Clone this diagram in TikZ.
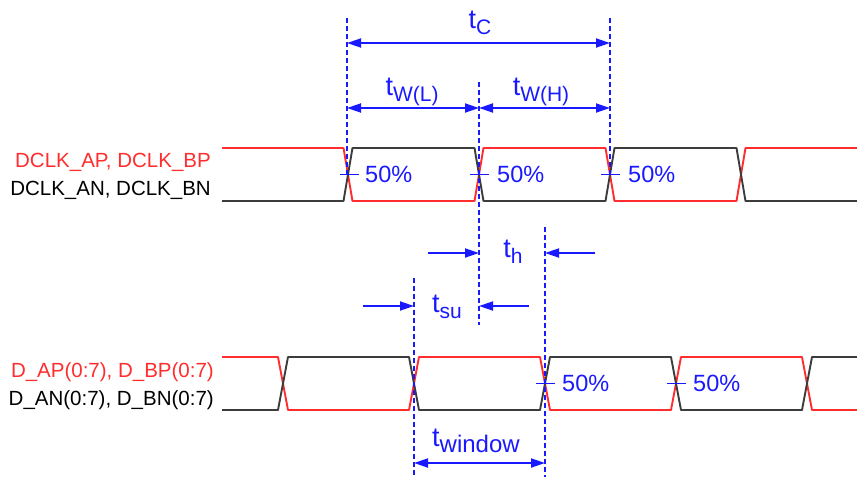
\documentclass[tikz,border=0pt]{standalone}
\usepackage{fontspec}
\setmainfont{Liberation Sans}
\usetikzlibrary{arrows.meta}
\definecolor{sigred}{RGB}{255,45,45}
\definecolor{sigdark}{RGB}{60,60,60}
\definecolor{dimblue}{RGB}{25,25,255}
\newcommand\tlab[2][21]{{\fontsize{27}{27}\selectfont t}\raisebox{-6pt}{\fontsize{#1}{#1}\selectfont #2}}
\begin{document}
\begin{tikzpicture}[x=1pt,y=-1pt,
  wave/.style={line width=1.9pt,line join=round},
  redwave/.style={wave,sigred},
  darkwave/.style={wave,sigdark},
  guide/.style={dimblue,line width=1.5pt,dash pattern=on 5pt off 3pt},
  dim/.style={dimblue,line width=1.8pt,-{Triangle[length=14pt,width=9pt]}},
  dimboth/.style={dimblue,line width=1.8pt,{Triangle[length=14pt,width=9pt]}-{Triangle[length=14pt,width=9pt]}},
  tick/.style={dimblue,line width=1.8pt},
  pct/.style={dimblue,anchor=base west,inner sep=0pt,font=\fontsize{23.5}{23.5}\selectfont},
  tlabel/.style={dimblue,anchor=base,inner sep=0pt},
  siglab/.style={anchor=base east,inner sep=0pt,font=\fontsize{20.5}{20.5}\selectfont}]
\useasboundingbox (0,0) rectangle (857,477);
% signal labels
\node[siglab,sigred] (lclkp) at (211,167) {DCLK\_AP, DCLK\_BP};
\node[siglab,black] (lclkn) at (211,195) {DCLK\_AN, DCLK\_BN};
\node[siglab,sigred] (ldatp) at (214,377) {D\_AP(0:7), D\_BP(0:7)};
\node[siglab,black] (ldatn) at (214,405) {D\_AN(0:7), D\_BN(0:7)};
% clock waveforms
\draw[redwave] (222,148) -- (343.5,148) -- (352.5,201) -- (474.5,201) -- (483.5,148) -- (605.5,148) -- (614.5,201) -- (736.5,201) -- (745.5,148) -- (857,148);
\draw[darkwave] (222,201) -- (343.5,201) -- (352.5,148) -- (474.5,148) -- (483.5,201) -- (605.5,201) -- (614.5,148) -- (736.5,148) -- (745.5,201) -- (857,201);
% data waveforms
\draw[redwave] (222,357) -- (278,357) -- (288,410) -- (409,410) -- (419,357) -- (540,357) -- (550,410) -- (671,410) -- (681,357) -- (802,357) -- (812,410) -- (857,410);
\draw[darkwave] (222,410) -- (278,410) -- (288,357) -- (409,357) -- (419,410) -- (540,410) -- (550,357) -- (671,357) -- (681,410) -- (802,410) -- (812,357) -- (857,357);
% guide coordinates
\coordinate (gAt) at (347,18);   \coordinate (gAb) at (347,175);
\coordinate (gBt) at (610,18);   \coordinate (gBb) at (610,175);
\coordinate (gCt) at (479,82);   \coordinate (gCb) at (479,325);
\coordinate (gDt) at (414,278);  \coordinate (gDb) at (414,477);
\coordinate (gEt) at (545,227);  \coordinate (gEb) at (545,477);
\draw[guide] (gAt) -- (gAb);
\draw[guide] (gBt) -- (gBb);
\draw[guide] (gCt) -- (gCb);
\draw[guide] (gDt) -- (gDb);
\draw[guide] (gEt) -- (gEb);
% dimension arrows
\coordinate (tcL) at (347,43);  \coordinate (tcR) at (610,43);
\draw[dimboth] (tcL) -- (tcR);
\coordinate (twL) at (347,108); \coordinate (twM) at (479,108); \coordinate (twR) at (610,108);
\draw[dimboth] (twL) -- (twM);
\draw[dimboth] (twM) -- (twR);
\coordinate (thA) at (428,253); \coordinate (thB) at (479,253);
\coordinate (thC) at (595,253); \coordinate (thD) at (545,253);
\draw[dim] (thA) -- (thB);
\draw[dim] (thC) -- (thD);
\coordinate (tsA) at (363,306); \coordinate (tsB) at (414,306);
\coordinate (tsC) at (529,306); \coordinate (tsD) at (479,306);
\draw[dim] (tsA) -- (tsB);
\draw[dim] (tsC) -- (tsD);
\coordinate (tnL) at (414,463); \coordinate (tnR) at (545,463);
\draw[dimboth] (tnL) -- (tnR);
% timing labels
\node[tlabel] (lbc) at (480,28) {\tlab{C}};
\node[tlabel] (lbwl) at (412,95) {\tlab{W(L)}};
\node[tlabel] (lbwh) at (541,95) {\tlab{W(H)}};
\node[tlabel] (lbh) at (513,257) {\tlab{h}};
\node[tlabel] (lbsu) at (447,312) {\tlab{su}};
\node[tlabel] (lbwin) at (476,446) {\tlab[24]{window}};
% 50% ticks and labels
\draw[tick] (340,174.5) -- (359,174.5);
\draw[tick] (470,174.5) -- (489,174.5);
\draw[tick] (601,174.5) -- (620,174.5);
\draw[tick] (536,383.5) -- (555,383.5);
\draw[tick] (667,383.5) -- (686,383.5);
\node[pct] (p1) at (365,182) {50\%};
\node[pct] (p2) at (497,182) {50\%};
\node[pct] (p3) at (628,182) {50\%};
\node[pct] (p4) at (562,391) {50\%};
\node[pct] (p5) at (693,391) {50\%};
\end{tikzpicture}
\end{document}
